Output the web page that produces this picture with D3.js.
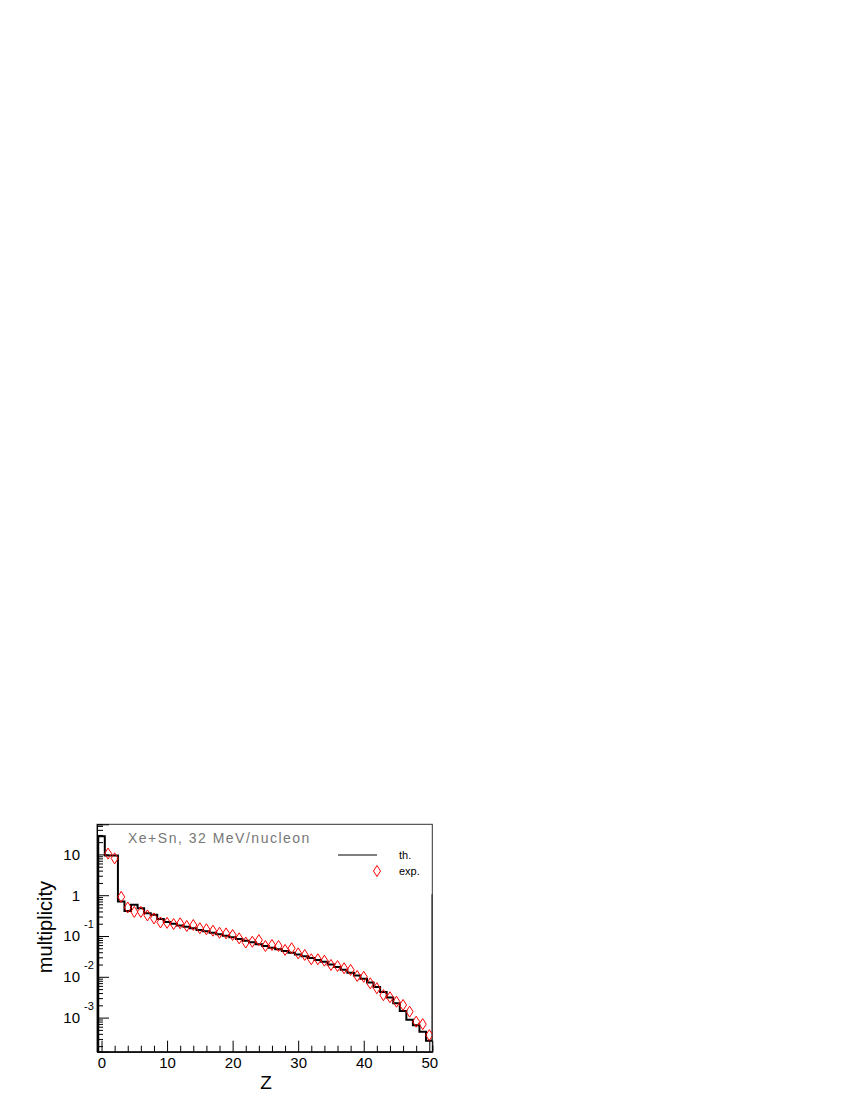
<!DOCTYPE html>
<html>
<head>
<meta charset="utf-8">
<script src="https://cdn.jsdelivr.net/npm/d3@7"></script>
<style>
  html, body { margin: 0; padding: 0; background: #fff; }
  svg { display: block; }
  text { font-family: "Liberation Sans", Arial, Helvetica, sans-serif; }
</style>
</head>
<body>
<svg id="chart" width="850" height="1100"></svg>
<script>
// ---- data ----
const thZ = [0,1,2,3,4,5,6,7,8,9,10,11,12,13,14,15,16,17,18,19,20,21,22,23,24,25,26,27,28,29,30,31,32,33,34,35,36,37,38,39,40,41,42,43,44,45,46,47,48,49,50,51];
const thValues = [28, 9.4, 9.4, 0.70, 0.41, 0.58, 0.48, 0.36, 0.33, 0.26,
  0.219, 0.200, 0.182, 0.168, 0.155, 0.141, 0.130, 0.120, 0.111, 0.102,
  0.0933, 0.0841, 0.0767, 0.0700, 0.0631, 0.0569, 0.0519, 0.0473, 0.0427, 0.0389,
  0.0351, 0.0320, 0.0288, 0.0260, 0.0234, 0.0200, 0.0174, 0.0148, 0.0126, 0.0107,
  0.00891, 0.00724, 0.00562, 0.00427, 0.00309, 0.00224, 0.00145, 0.000891, 0.000646, 0.000447,
  0.000269, 1.0];
const expZ = [1,2,3,4,5,6,7,8,9,10,11,12,13,14,15,16,17,18,19,20,21,22,23,24,25,26,27,28,29,30,31,32,33,34,35,36,37,38,39,40,41,42,43,44,45,46,47,48,49,50];
const expValues = [10.5, 8.0, 0.91, 0.50, 0.39, 0.39, 0.32, 0.27, 0.215, 0.21,
  0.197, 0.205, 0.176, 0.186, 0.155, 0.146, 0.135, 0.120, 0.116, 0.106,
  0.0877, 0.0692, 0.0724, 0.0794, 0.0569, 0.0603, 0.0569, 0.0457, 0.0501, 0.0376,
  0.0343, 0.0269, 0.0269, 0.0248, 0.0195, 0.0184, 0.0162, 0.0148, 0.0105, 0.0100,
  0.00692, 0.00525, 0.00355, 0.00316, 0.00245, 0.00204, 0.00140, 0.000794, 0.000692, 0.000372];
const xMajorTicks = [0, 10, 20, 30, 40, 50];
const xMinorTicks = [2,4,6,8,12,14,16,18,22,24,26,28,32,34,36,38,42,44,46,48];
const yMajorTicks = [10, 1, 0.1, 0.01, 0.001];
const yTickBase = ["10", "1", "10", "10", "10"];
const yTickExp = ["", "", "-1", "-2", "-3"];
const titleText = "Xe+Sn, 32 MeV/nucleon";
const xTitle = "Z";
const yTitle = "multiplicity";
const legendLabels = ["th.", "exp."];

// ---- layout ----
const svg = d3.select("#chart");
const L = 97, R = 432.3, T = 824.3, B = 1051.7;

const x = d3.scaleLinear().domain([-0.69, 50.46]).range([L, R]);
const y = d3.scaleLog().domain([1.46e-4, 54.7]).range([B, T]);

svg.append("defs").append("clipPath").attr("id", "clip")
  .append("rect").attr("x", L).attr("y", T).attr("width", R - L).attr("height", B - T);

// frame
svg.append("rect").attr("x", L).attr("y", T).attr("width", R - L).attr("height", B - T)
  .attr("fill", "none").attr("stroke", "#333").attr("stroke-width", 1);

// y minor ticks
const yMinor = [];
[1e-4, 1e-3, 1e-2, 1e-1, 1, 10].forEach(d => {
  for (let k = 2; k <= 9; k++) { const v = d * k; if (v > 1.46e-4 && v < 54.7) yMinor.push(+v.toPrecision(3)); }
});

const gy = svg.append("g").attr("transform", `translate(${L},0)`);
gy.call(d3.axisLeft(y).tickValues(yMinor).tickSize(-6).tickFormat(""));
const gy2 = svg.append("g").attr("transform", `translate(${L},0)`);
gy2.call(d3.axisLeft(y).tickValues(yMajorTicks).tickSize(-12).tickFormat(""));
[gy, gy2].forEach(g => {
  g.select(".domain").attr("stroke", "#000");
  g.selectAll(".tick line").attr("stroke", "#000").attr("stroke-width", 1);
});

// y labels
yMajorTicks.forEach((v, i) => {
  svg.append("text").attr("x", 80).attr("y", y(v)).attr("dy", "0.36em")
    .attr("text-anchor", "end").attr("font-size", 15).attr("fill", "#000").text(yTickBase[i]);
  if (yTickExp[i]) {
    svg.append("text").attr("x", 84).attr("y", y(v) - 8)
      .attr("text-anchor", "start").attr("font-size", 11).attr("fill", "#000").text(yTickExp[i]);
  }
});

// x axis
const gx = svg.append("g").attr("transform", `translate(0,${B})`);
gx.call(d3.axisBottom(x).tickValues(xMinorTicks).tickSize(-6).tickFormat(""));
const gx2 = svg.append("g").attr("transform", `translate(0,${B})`);
gx2.call(d3.axisBottom(x).tickValues(xMajorTicks).tickSize(-11).tickPadding(6).tickFormat(d3.format("d")));
[gx, gx2].forEach(g => {
  g.select(".domain").attr("stroke", "#000");
  g.selectAll(".tick line").attr("stroke", "#000").attr("stroke-width", 1);
});
gx2.selectAll(".tick text").attr("font-size", 15).attr("fill", "#000")
  .attr("font-family", "Liberation Sans, Arial, sans-serif");

// axis titles
svg.append("text").attr("x", 266).attr("y", 1089).attr("text-anchor", "middle")
  .attr("font-size", 19).attr("fill", "#000").text(xTitle);
svg.append("text").attr("transform", "translate(52,927) rotate(-90)")
  .attr("text-anchor", "middle").attr("font-size", 20).attr("fill", "#000").text(yTitle);

// histogram (th.)
const plot = svg.append("g").attr("clip-path", "url(#clip)");
const pts = [[x(thZ[0] - 0.5), B + 5]];
thZ.forEach((z, i) => {
  pts.push([x(z - 0.5), y(thValues[i])]);
  pts.push([x(z + 0.5), y(thValues[i])]);
});
plot.append("path").attr("d", d3.line()(pts))
  .attr("fill", "none").attr("stroke", "#000").attr("stroke-width", 2);

// exp diamonds
const diamond = (cx, cy) => `M${cx},${cy - 5.5}L${cx + 3.5},${cy}L${cx},${cy + 5.5}L${cx - 3.5},${cy}Z`;
plot.selectAll("path.exp").data(expZ).enter().append("path").attr("class", "exp")
  .attr("d", (z, i) => diamond(x(z), y(expValues[i])))
  .attr("fill", "none").attr("stroke", "#ff0000").attr("stroke-width", 1);

// title
svg.append("text").attr("x", 128).attr("y", 843).attr("font-size", 14)
  .attr("letter-spacing", "1.5px").attr("fill", "#777").text(titleText);

// legend
svg.append("line").attr("x1", 338).attr("x2", 377).attr("y1", 855).attr("y2", 855)
  .attr("stroke", "#000").attr("stroke-width", 1.2);
svg.append("text").attr("x", 399).attr("y", 859).attr("font-size", 11).attr("fill", "#000").text(legendLabels[0]);
svg.append("path").attr("d", diamond(377, 871)).attr("fill", "none").attr("stroke", "#ff0000").attr("stroke-width", 1);
svg.append("text").attr("x", 399).attr("y", 875).attr("font-size", 11).attr("fill", "#000").text(legendLabels[1]);
</script>
</body>
</html>
